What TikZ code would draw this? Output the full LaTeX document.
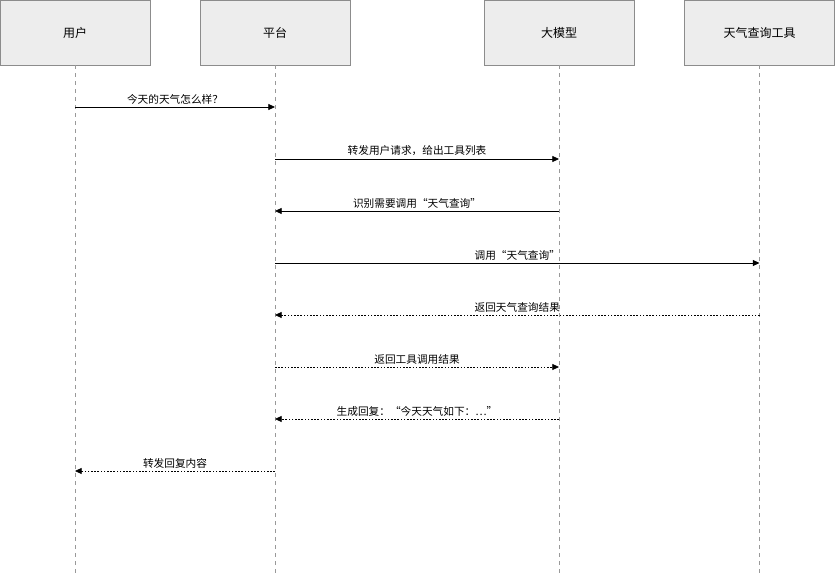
\documentclass[tikz,border=0pt]{standalone}
\usepackage{fontspec}
\newfontfamily\cjk{Noto Sans CJK SC}
\usetikzlibrary{arrows.meta}
\tikzset{
  actor/.style={draw=black!45,fill=black!7,minimum width=150*0.75pt,minimum height=65*0.75pt,inner sep=0pt,font=\cjk\fontsize{9}{10}\selectfont},
  life/.style={draw=black!40,dashed,dash pattern=on 3pt off 3pt,line width=0.4pt},
  msg/.style={-{Triangle[length=5pt,width=4.5pt]},line width=0.6pt},
  ret/.style={msg,dash pattern=on 1.2pt off 1.2pt},
  lbl/.style={above,font=\cjk\fontsize{8}{9}\selectfont,inner sep=2pt}
}
\begin{document}
\begin{tikzpicture}[x=0.75pt,y=-0.75pt]
  \useasboundingbox (0,0) rectangle (835,577);
  \node[actor] (user) at (75,32.5) {用户};
  \node[actor] (plat) at (275,32.5) {平台};
  \node[actor] (llm) at (559,32.5) {大模型};
  \node[actor] (tool) at (759.5,32.5) {天气查询工具};
  \foreach \n/\x in {user/75,plat/275,llm/559,tool/759.5}
    \draw[life] (\n.south) -- (\x,577);
  % messages
  \foreach \y/\a/\b/\s/\t in {
      107/75/275/msg/{今天的天气怎么样？},
      159/275/559/msg/{转发用户请求，给出工具列表},
      211/559/275/msg/{识别需要调用“天气查询”},
      263/275/759.5/msg/{调用“天气查询”},
      315/759.5/275/ret/{返回天气查询结果},
      367/275/559/ret/{返回工具调用结果},
      419/559/275/ret/{生成回复：“今天天气如下：\ldots”},
      471/275/75/ret/{转发回复内容}}
    \draw[\s] (\a,\y) -- node[lbl] {\t} (\b,\y);
\end{tikzpicture}
\end{document}
